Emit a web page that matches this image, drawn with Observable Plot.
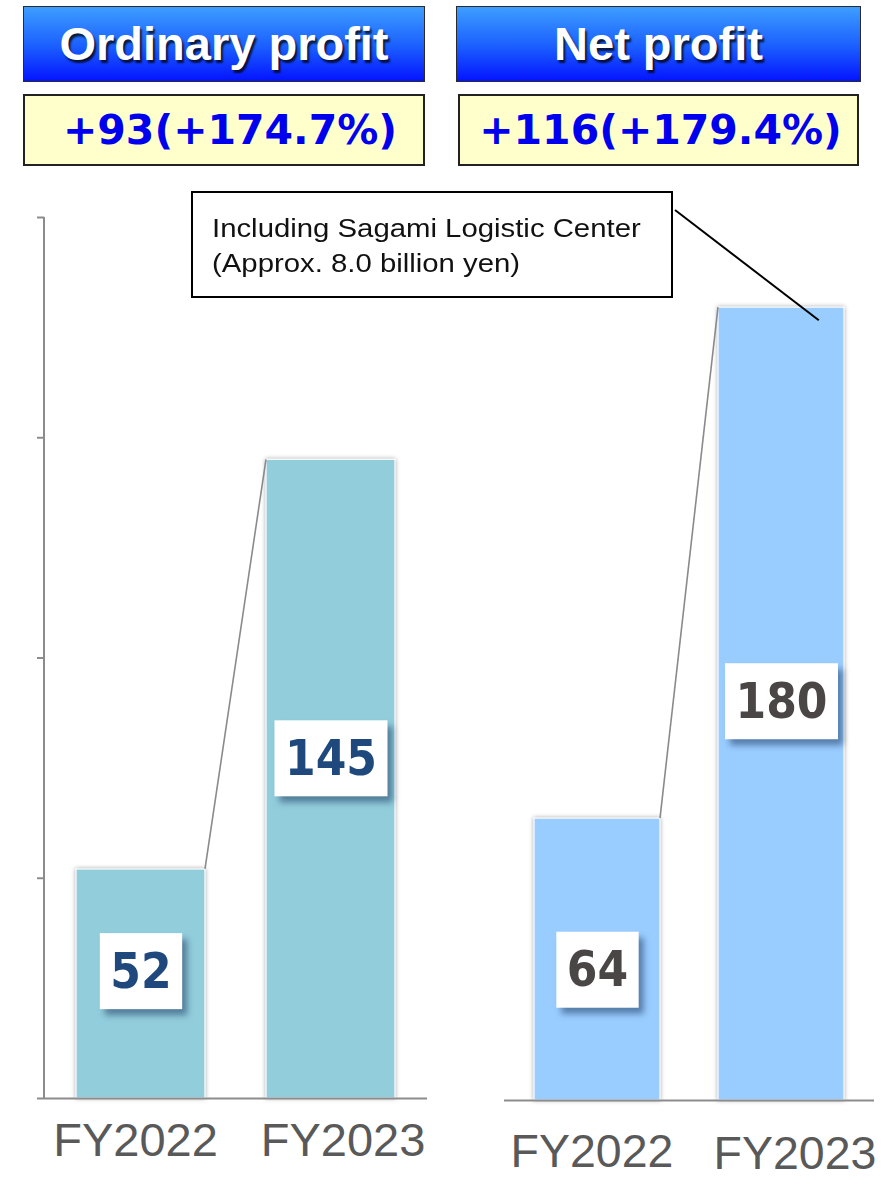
<!DOCTYPE html>
<html>
<head>
<meta charset="utf-8">
<script src="https://cdn.jsdelivr.net/npm/d3@7"></script>
<script src="https://cdn.jsdelivr.net/npm/@observablehq/plot@0.6"></script>
<style>
  html, body { margin: 0; padding: 0; background: #fff; }
  #page { position: relative; width: 888px; height: 1178px; overflow: hidden; font-family: "Liberation Sans", Arial, sans-serif; }
  .hdr { position: absolute; box-sizing: border-box; height: 76px; top: 6px;
         background: linear-gradient(#3d9eff, #1a5cff 55%, #0414ff);
         border: 1.5px solid #2a2a2a; color: #fff; text-align: center;
         font: bold 47px/73px "Liberation Sans", Arial, sans-serif;
         text-shadow: 2px 3px 2px rgba(0,0,0,0.75); }
  .chg { position: absolute; box-sizing: border-box; height: 72px; top: 94px;
         background: #ffffcc; border: 2px solid #222; color: #0000ee; text-align: center;
         font: bold 41px/68px "DejaVu Sans", Verdana, sans-serif; }
  #note { position: absolute; box-sizing: border-box; left: 191px; top: 191px; width: 482px; height: 107px;
          border: 2px solid #000; background: #fff; color: #111; padding: 17.5px 0 0 19px; white-space: nowrap; }
  #note .lines { display: inline-block; transform: scaleX(1.15); transform-origin: 0 0;
          font: 25.5px/35px "Liberation Sans", Arial, sans-serif; }
  .plotbox { position: absolute; top: 200px; }
  g[aria-label="bar"] rect { filter: drop-shadow(0 0 2px rgba(0,0,0,0.35)); }
  .vbox { filter: drop-shadow(5px 6px 3px rgba(30,60,100,0.55)); }
  #overlay { position: absolute; left: 0; top: 0; pointer-events: none; }
</style>
</head>
<body>
<div id="page"></div>
<script>
// ---- data ----
const years = ["FY2022", "FY2023"];
const ordinaryProfit = [52, 145];
const netProfit = [64, 180];
const yTicks = [0, 50, 100, 150, 200];
const titles = ["Ordinary profit", "Net profit"];
const changes = ["+93(+174.7%)", "+116(+179.4%)"];
const noteLines = ["Including Sagami Logistic Center", "(Approx. 8.0 billion yen)"];

const ordinaryData = years.map((year, i) => ({year, value: ordinaryProfit[i]}));
const netData = years.map((year, i) => ({year, value: netProfit[i]}));

const page = document.getElementById("page");

// headers
function addDiv(cls, text, style) {
  const d = document.createElement("div");
  d.className = cls;
  d.textContent = text;
  Object.assign(d.style, style);
  page.appendChild(d);
  return d;
}
addDiv("hdr", titles[0], {left: "23px", width: "402px"});
addDiv("hdr", titles[1], {left: "456px", width: "405px"});
addDiv("chg", changes[0], {left: "23px", width: "402px", paddingLeft: "12px"});
addDiv("chg", changes[1], {left: "458px", width: "401px", paddingLeft: "4px"});

// ---- helper marks ----
const axisGray = "#8c8c8c";
function connector(data) {
  return (index, scales, values, dims) => {
    const {x, y} = scales;
    const bw = x.bandwidth ? x.bandwidth() : 0;
    return d3.create("svg:line")
      .attr("x1", x(data[0].year) + bw).attr("y1", y(data[0].value))
      .attr("x2", x(data[1].year)).attr("y2", y(data[1].value))
      .attr("stroke", "#8a8a8a").attr("stroke-width", 1.6).node();
  };
}
function leftAxisLine() {
  return (index, scales, values, dims) => {
    const {y} = scales;
    return d3.create("svg:line")
      .attr("x1", dims.marginLeft).attr("x2", dims.marginLeft)
      .attr("y1", y(yTicks[yTicks.length - 1])).attr("y2", y(0))
      .attr("stroke", axisGray).attr("stroke-width", 2).node();
  };
}
const labelFont = "'DejaVu Sans Condensed', 'DejaVu Sans', Verdana, sans-serif";
const axisFont = "'Liberation Sans', Arial, sans-serif";
const valueText = (d, dy, fill) => Plot.text([d], {x: "year", y: v => v.value / 2, dy, text: v => String(v.value),
  fontSize: 49, fontWeight: "bold", fontFamily: labelFont, fill});

// ---- left plot: Ordinary profit ----
const left = Plot.plot({
  width: 450, height: 978,
  marginTop: 17, marginBottom: 80, marginLeft: 44, marginRight: 23,
  style: {fontFamily: axisFont, background: "transparent", overflow: "visible"},
  x: {domain: years, paddingInner: 0.321, paddingOuter: 0.168, axis: null},
  y: {domain: [0, 200], axis: null},
  marks: [
    Plot.axisY({ticks: yTicks, tickSize: 7, tickFormat: () => "", label: null, stroke: axisGray, strokeWidth: 2}),
    leftAxisLine(),
    Plot.barY(ordinaryData, {x: "year", y: "value", fill: "#92cddc", stroke: "#ffffff", strokeWidth: 1.2}),
    Plot.ruleY([0], {stroke: axisGray, strokeWidth: 2}),
    connector(ordinaryData),
    valueText(ordinaryData[0], -12, "#1f497d"),
    valueText(ordinaryData[1], -20, "#1f497d"),
    Plot.text([years[0]], {x: d => d, frameAnchor: "bottom", lineAnchor: "top", dy: 24, dx: -5.5,
      fontSize: 47, fill: "#595959", fontFamily: axisFont}),
    Plot.text([years[1]], {x: d => d, frameAnchor: "bottom", lineAnchor: "top", dy: 24, dx: 12,
      fontSize: 47, fill: "#595959", fontFamily: axisFont})
  ]
});

// ---- right plot: Net profit ----
const right = Plot.plot({
  width: 438, height: 978,
  marginTop: 19, marginBottom: 78, marginLeft: 54, marginRight: 14,
  style: {fontFamily: axisFont, background: "transparent", overflow: "visible"},
  x: {domain: years, paddingInner: 0.3135, paddingOuter: 0.157, axis: null},
  y: {domain: [0, 200], axis: null},
  marks: [
    Plot.barY(netData, {x: "year", y: "value", fill: "#99ccff", stroke: "#ffffff", strokeWidth: 1.2}),
    Plot.ruleY([0], {stroke: axisGray, strokeWidth: 2}),
    connector(netData),
    valueText(netData[0], 11, "#4a4646"),
    valueText(netData[1], -2, "#4a4646"),
    Plot.text([years[0]], {x: d => d, frameAnchor: "bottom", lineAnchor: "top", dy: 33, dx: -5.5,
      fontSize: 46.5, fill: "#595959", fontFamily: axisFont}),
    Plot.text([years[1]], {x: d => d, frameAnchor: "bottom", lineAnchor: "top", dy: 35, dx: 13.5,
      fontSize: 46.5, fill: "#595959", fontFamily: axisFont})
  ]
});

const lbox = document.createElement("div"); lbox.className = "plotbox"; lbox.style.left = "0px";
const rbox = document.createElement("div"); rbox.className = "plotbox"; rbox.style.left = "450px";
lbox.appendChild(left); rbox.appendChild(right);
page.appendChild(lbox); page.appendChild(rbox);

// white boxes behind value labels (the numeric text marks)
for (const svg of [left, right]) {
  svg.querySelectorAll('g[aria-label="text"]').forEach(g => {
    const texts = Array.from(g.querySelectorAll("text")).filter(t => /^\d+$/.test(t.textContent.trim()));
    if (!texts.length) return;
    const boxes = d3.create("svg:g").attr("class", "vbox");
    if (g.getAttribute("transform")) boxes.attr("transform", g.getAttribute("transform"));
    texts.forEach(t => {
      const b = t.getBBox();
      const cy = b.y + b.height / 2;
      const r = boxes.append("rect")
        .attr("x", b.x - 10.5).attr("width", b.width + 21)
        .attr("y", cy - 38).attr("height", 76)
        .attr("fill", "#ffffff");
      if (t.getAttribute("transform")) r.attr("transform", t.getAttribute("transform"));
    });
    g.parentNode.insertBefore(boxes.node(), g);
  });
}

// annotation note
const note = document.createElement("div");
note.id = "note";
note.innerHTML = `<div class="lines">${noteLines.map(s => `<div>${s}</div>`).join("")}</div>`;
page.appendChild(note);

// leader line from note to FY2023 net-profit bar
const xR = right.scale("x"), yR = right.scale("y");
const rx = 450 + xR.apply(years[1]) + xR.bandwidth * 0.8;
const ry = 200 + yR.apply(netProfit[1] - 3);
const ov = d3.create("svg").attr("id", "overlay").attr("width", 888).attr("height", 1178);
ov.append("line").attr("x1", 675).attr("y1", 210).attr("x2", rx).attr("y2", ry)
  .attr("stroke", "#000").attr("stroke-width", 2);
page.appendChild(ov.node());
</script>
</body>
</html>
